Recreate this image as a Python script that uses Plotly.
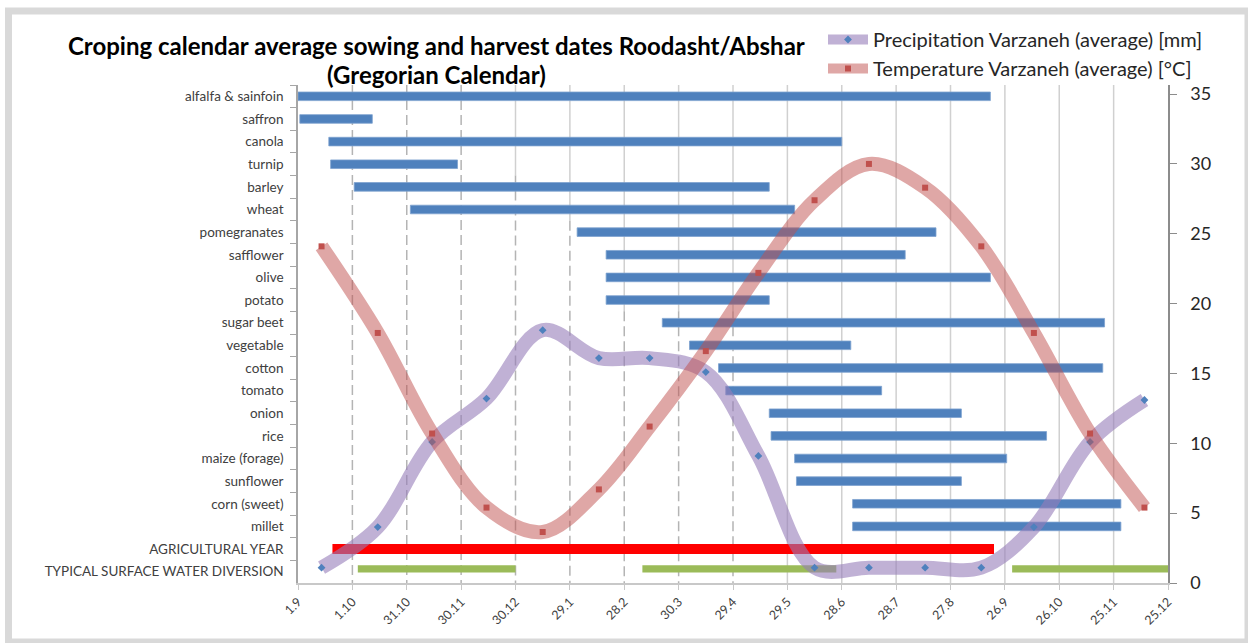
import plotly.graph_objects as go

# ---- data -------------------------------------------------------------
# day offsets counted from 1 September (one tick every 30 days)
tick_days = list(range(0, 481, 30))
tick_labels = ["1.9", "1.10", "31.10", "30.11", "30.12", "29.1", "28.2", "30.3",
               "29.4", "29.5", "28.6", "28.7", "27.8", "26.9", "26.10", "25.11", "25.12"]

crops = ["alfalfa & sainfoin", "saffron", "canola", "turnip", "barley", "wheat",
         "pomegranates", "safflower", "olive", "potato", "sugar beet", "vegetable",
         "cotton", "tomato", "onion", "rice", "maize (forage)", "sunflower",
         "corn (sweet)", "millet"]
sowing = [0, 1, 17, 18, 31, 62, 154, 170, 170, 170, 201, 216, 232, 236, 260, 261,
          274, 275, 306, 306]
harvest = [382, 41, 300, 88, 260, 274, 352, 335, 382, 260, 445, 305, 444, 322, 366,
           413, 391, 366, 454, 454]

agri_label = "AGRICULTURAL YEAR"
agri_start, agri_end = 19, 384

diversion_label = "TYPICAL SURFACE WATER DIVERSION"
diversion_start = [33, 190, 394]
diversion_end = [120, 297, 480]

categories = crops + [agri_label, diversion_label]

# monthly averages (mid-month positions, Sep .. Dec of the following year)
month_days = [13, 44, 74, 104, 135, 166, 194, 225, 254, 285, 315, 346, 377, 406, 437, 467]
precip = [1.1, 4.0, 10.1, 13.2, 18.1, 16.1, 16.1, 15.1, 9.1, 1.1, 1.1, 1.1, 1.1, 4.0, 10.1, 13.1]
temp = [24.1, 17.9, 10.7, 5.4, 3.65, 6.7, 11.2, 16.6, 22.2, 27.4, 30.0, 28.3, 24.1, 17.9, 10.7, 5.4]

title_lines = ["Croping calendar average sowing and harvest dates Roodasht/Abshar",
               "(Gregorian Calendar)"]

# first row (from the top) where each vertical guide turns dashed
guide_dash_from = {30: 0, 60: 0, 90: 0, 120: 4, 150: 6, 180: 10, 210: 10, 240: 10}

# ---- layout geometry --------------------------------------------------
W, H = 1248, 643
ML, MR, MT, MB = 298, 80, 85, 60
PW, PH = W - ML - MR, H - MT - MB

def px_x(px):
    return (px - ML) / PW

def px_y(py):
    return (H - MB - py) / PH

FONT = "Lato"
TXT = "#404040"

fig = go.Figure()

# crop sowing -> harvest bars
fig.add_trace(go.Bar(
    y=crops, base=sowing, x=[h - s for s, h in zip(sowing, harvest)],
    orientation="h", width=0.38,
    marker=dict(color="#4F81BD", line=dict(color="#7EA2CF", width=0.8)),
    showlegend=False, hoverinfo="skip"))

fig.add_trace(go.Bar(
    y=[agri_label], base=[agri_start], x=[agri_end - agri_start],
    orientation="h", width=0.44, marker=dict(color="#FF0000", line=dict(width=0)),
    showlegend=False, hoverinfo="skip"))

fig.add_trace(go.Bar(
    y=[diversion_label] * len(diversion_start), base=diversion_start,
    x=[e - s for s, e in zip(diversion_start, diversion_end)],
    orientation="h", width=0.32, offset=-0.28,
    marker=dict(color="#9BBB59", line=dict(width=0)),
    showlegend=False, hoverinfo="skip"))

# climate lines on the secondary axis
fig.add_trace(go.Scatter(
    x=month_days, y=precip, yaxis="y2", mode="lines+markers",
    name="Precipitation Varzaneh (average) [mm]", legendgroup="p",
    line=dict(color="rgba(150,125,185,0.6)", width=14, shape="spline", smoothing=1),
    marker=dict(symbol="diamond", size=6, color="#4F81BD"),
    hoverinfo="skip"))

fig.add_trace(go.Scatter(
    x=month_days, y=temp, yaxis="y2", mode="lines+markers",
    name="Temperature Varzaneh (average) [°C]", legendgroup="t",
    line=dict(color="rgba(192,80,77,0.5)", width=14, shape="spline", smoothing=1),
    marker=dict(symbol="square", size=6, color="#C0504D"),
    hoverinfo="skip"))

# vertical guides
shapes = []
n_rows = len(categories)
for d in tick_days[1:-1]:
    start = guide_dash_from.get(d)
    if start is None:
        shapes.append(dict(type="line", xref="x", yref="y", x0=d, x1=d,
                           y0=-0.5, y1=n_rows - 0.5, layer="below",
                           line=dict(color="#D0D0D0", width=1.5)))
        continue
    if start > 0:
        shapes.append(dict(type="line", xref="x", yref="y", x0=d, x1=d,
                           y0=-0.5, y1=start - 0.5, layer="below",
                           line=dict(color="#D0D0D0", width=1.5)))
    shapes.append(dict(type="line", xref="x", yref="y", x0=d, x1=d,
                       y0=start - 0.5, y1=n_rows - 0.5, layer="below",
                       line=dict(color="#B4B4B4", width=1.5, dash="10px,5px")))

# chart frame
shapes.append(dict(type="rect", xref="paper", yref="paper",
                   x0=px_x(8.5), x1=px_x(1248), y0=px_y(642), y1=px_y(11),
                   line=dict(color="#D9D9D9", width=7), fillcolor="rgba(0,0,0,0)",
                   layer="below"))

# two-line chart title
annotations = [
    dict(text=f"<b>{line}</b>", xref="paper", yref="paper",
         x=px_x(436), y=px_y(cy), xanchor="center", yanchor="middle",
         showarrow=False, borderpad=0,
         font=dict(family=FONT, size=24, color="#000000"))
    for line, cy in zip(title_lines, [45.5, 74.5])
]

fig.update_layout(
    width=W, height=H,
    margin=dict(l=ML, r=MR, t=MT, b=MB),
    paper_bgcolor="white", plot_bgcolor="white",
    barmode="overlay",
    font=dict(family=FONT, color=TXT),
    xaxis=dict(
        range=[0, 480], tickmode="array", tickvals=tick_days, ticktext=tick_labels,
        tickangle=-45, tickfont=dict(size=12.5, color=TXT),
        showgrid=False, zeroline=False,
        showline=True, linecolor="#C8C8C8", linewidth=1.5,
        ticks="outside", ticklen=5, tickcolor="#C8C8C8"),
    yaxis=dict(
        type="category", categoryorder="array", categoryarray=categories,
        range=[n_rows - 0.5, -0.5], tickson="boundaries",
        tickfont=dict(size=13.5, color=TXT),
        showgrid=False, zeroline=False,
        showline=True, linecolor="#A6A6A6", linewidth=1.5,
        ticks="outside", ticklen=6, tickcolor="#A6A6A6", ticklabelstandoff=10),
    yaxis2=dict(
        overlaying="y", side="right", range=[0, 35.65],
        tickmode="array", tickvals=list(range(0, 36, 5)),
        tickfont=dict(size=18, color="#262626"),
        showgrid=False, zeroline=False,
        showline=True, linecolor="#8C8C8C", linewidth=1.5,
        ticks="outside", ticklen=7, tickcolor="#8C8C8C", ticklabelstandoff=10),
    legend=dict(
        x=px_x(823), xanchor="left", y=px_y(20), yanchor="top",
        bgcolor="rgba(0,0,0,0)", font=dict(size=20, color="#262626"),
        tracegroupgap=0, itemwidth=40),
    shapes=shapes,
    annotations=annotations,
)

fig.write_html("out.html")
